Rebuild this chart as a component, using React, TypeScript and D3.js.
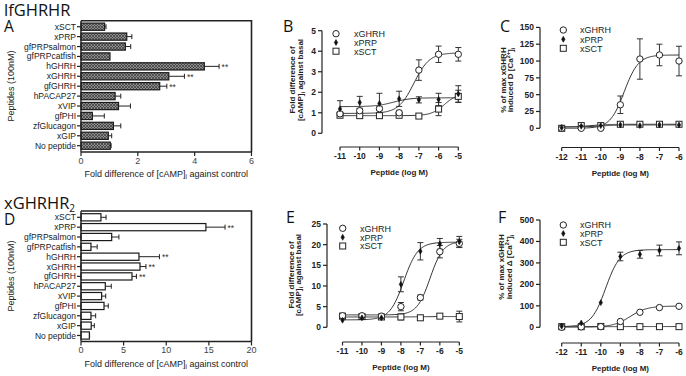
import React from "react";
import * as d3 from "d3";

const FONT = "'Liberation Sans', Arial, sans-serif";
const TITLE_FONT = "'Open Sans', 'DejaVu Sans', sans-serif";
const INK = "#222";

// ---------- Bar panels (A, D) ----------
const peptides = ["xSCT", "xPRP", "gfPRPsalmon", "gfPRPcatfish", "hGHRH", "xGHRH", "gfGHRH", "hPACAP27", "xVIP", "gfPHI", "zfGlucagon", "xGIP", "No peptide"];
const valsA = [0.83, 1.61, 1.56, 1.02, 4.34, 3.09, 2.77, 1.2, 1.32, 0.4, 1.14, 0.96, 1.03];
const errA = [0.05, 0.18, 0.19, 0.0, 0.52, 0.55, 0.25, 0.2, 0.42, 0.42, 0.26, 0.12, 0.03];
const sigA = ["", "", "", "", "**", "**", "**", "", "", "", "", "", ""];
const ticksA = [0, 2, 4, 6];
const valsD = [2.34, 14.65, 3.6, 1.17, 6.8, 6.92, 5.98, 2.85, 2.42, 2.7, 1.17, 1.2, 0.98];
const errD = [0.6, 2.25, 0.85, 0.73, 2.4, 0.7, 0.52, 0.7, 0.48, 0.5, 0.55, 0.36, 0.03];
const sigD = ["", "**", "", "", "**", "**", "**", "", "", "", "", "", ""];
const ticksD = [0, 5, 10, 15, 20];

// ---------- Dose-response panels ----------
const legendNames = ["xGHRH", "xPRP", "xSCT"];
const doseBE = [-11, -10, -9, -8, -7, -6, -5];
const doseCF = [-12, -11, -10, -9, -8, -7, -6];

// B
const bGHRH = [0.95, 1.1, 1.2, 1.0, 3.08, 3.85, 3.85];
const bGHRHerr = [0.1, 0.12, 0.1, 0.12, 0.5, 0.4, 0.33];
const bPRP = [1.19, 1.5, 1.45, 1.68, 1.63, 1.65, 1.92];
const bPRPerr = [0.4, 0.3, 0.5, 0.37, 0.15, 0.3, 0.4];
const bSCT = [0.88, 0.86, 0.86, 0.88, 0.84, 1.18, 1.8];
const bSCTerr = [0.05, 0.05, 0.05, 0.06, 0.03, 0.32, 0.3];
const fitB = [[0.97, 3.92, -7.25, 1.1], [1.3, 1.73, -8.3, 1.0], [0.86, 1.95, -5.7, 1.3]];
const ticksBy = [0, 1, 2, 3, 4, 5];

// C
const cGHRH = [0, 0, 0, 35, 103, 109, 100];
const cGHRHerr = [1, 1, 1, 13, 30, 16, 22];
const cPRP = [1, 3, 4, 5, 4, 5, 5];
const cPRPerr = [1, 1, 1, 1, 1, 1, 1];
const cSCT = [0, 4, 4, 6, 6, 6, 6];
const cSCTerr = [1, 1, 1, 1, 1, 1, 1];
const fitC = [[0, 109, -8.8, 1.2], [2, 5, -10, 1.0], [2, 6, -10.5, 1.0]];
const ticksCy = [0, 25, 50, 75, 100, 125, 150];

// E
const eGHRH = [2.8, 2.8, 2.7, 5.0, 7.2, 18.3, 20.3];
const eGHRHerr = [0.3, 0.3, 0.3, 1.0, 0.6, 1.5, 1.0];
const ePRP = [1.7, 2.3, 2.3, 10.4, 18.4, 20.2, 20.7];
const ePRPerr = [0.3, 0.3, 0.3, 1.8, 2.1, 1.3, 1.3];
const eSCT = [2.7, 2.6, 2.5, 2.5, 2.3, 2.7, 2.6];
const eSCTerr = [0.6, 0.4, 0.4, 0.7, 0.3, 0.4, 1.3];
const fitE = [[3.0, 20.8, -6.5, 1.3], [1.8, 20.6, -7.85, 1.2], [2.5, 2.6, -7, 1.0]];
const ticksEy = [0, 5, 10, 15, 20, 25];

// F
const fGHRH = [0, 2, 3, 27, 70, 92, 98];
const fGHRHerr = [2, 2, 2, 4, 4, 4, 4];
const fPRP = [5, 20, 115, 330, 340, 358, 368];
const fPRPerr = [3, 3, 5, 20, 18, 25, 30];
const fSCT = [3, 3, 4, 3, 3, 3, 3];
const fSCTerr = [1, 1, 1, 1, 1, 1, 1];
const fitF = [[1, 99, -8.5, 1.0], [3, 362, -9.75, 1.2], [3, 3.5, -9, 1.0]];
const ticksFy = [0, 100, 200, 300, 400, 500];

const kinds = ["circle", "dot", "square"];

function Marker({ kind, x, y }: { kind: string; x: number; y: number }) {
  if (kind === "circle") return <circle cx={x} cy={y} r={3.2} fill="#fff" stroke={INK} strokeWidth={1} />;
  if (kind === "dot") {
    const p = d3.symbol(d3.symbolDiamond, 10)();
    return <path d={p || ""} transform={`translate(${x},${y})`} fill="#111" stroke="#111" strokeWidth={0.6} />;
  }
  return <rect x={x - 3} y={y - 3} width={6} height={6} fill="#fff" stroke={INK} strokeWidth={1} />;
}

function sigmoid(p: number[], x: number) {
  const [b, t, ec, h] = p;
  return b + (t - b) / (1 + Math.pow(10, (ec - x) * h));
}

type CurveProps = {
  letter: string; letterX: number; letterY: number;
  dose: number[]; xRange: [number, number]; yMax: number; yRange: [number, number];
  yTicks: number[]; yAxisX: number; xAxisY: number;
  means: number[][]; errs: number[][]; fits: number[][];
  legX: number; legY: number[]; legTextX: number;
  ylab: React.ReactNode[]; ylabX: number[]; ylabCY: number;
};

function CurvePanel(p: CurveProps) {
  const x = d3.scaleLinear().domain([p.dose[0], p.dose[p.dose.length - 1]]).range(p.xRange);
  const y = d3.scaleLinear().domain([0, p.yMax]).range(p.yRange);
  const xs = d3.range(p.dose[0], p.dose[p.dose.length - 1] + 0.001, 0.05);
  return (
    <g>
      <text x={p.letterX} y={p.letterY} fontFamily={TITLE_FONT} fontSize={16} fill="#111">{p.letter}</text>
      <line x1={p.yAxisX} x2={p.yAxisX} y1={y(0)} y2={y(p.yMax)} stroke={INK} strokeWidth={1.2} />
      {p.yTicks.map((t) => (
        <g key={t}>
          <line x1={p.yAxisX - 4} x2={p.yAxisX} y1={y(t)} y2={y(t)} stroke={INK} strokeWidth={1.2} />
          <text x={p.yAxisX - 6} y={y(t) + 3} textAnchor="end" fontFamily={FONT} fontWeight="bold" fontSize={8.5} fill={INK}>{t}</text>
        </g>
      ))}
      <line x1={x(p.dose[0])} x2={x(p.dose[p.dose.length - 1])} y1={p.xAxisY} y2={p.xAxisY} stroke={INK} strokeWidth={1.2} />
      {p.dose.map((d) => (
        <g key={d}>
          <line x1={x(d)} x2={x(d)} y1={p.xAxisY} y2={p.xAxisY + 3.5} stroke={INK} strokeWidth={1.2} />
          <text x={x(d)} y={p.xAxisY + 12} textAnchor="middle" fontFamily={FONT} fontWeight="bold" fontSize={8.5} fill={INK}>{String(d)}</text>
        </g>
      ))}
      <text x={(x(p.dose[0]) + x(p.dose[p.dose.length - 1])) / 2} y={p.xAxisY + 28} textAnchor="middle" fontFamily={FONT} fontWeight="bold" fontSize={8} fill={INK}>Peptide (log M)</text>
      {p.ylab.map((l, i) => (
        <text key={i} transform={`translate(${p.ylabX[i]},${p.ylabCY}) rotate(-90)`} textAnchor="middle" fontFamily={FONT} fontWeight="bold" fontSize={8} fill={INK}>{l}</text>
      ))}
      {p.fits.map((f, i) => (
        <path key={i} d={d3.line<number>().x((d) => x(d)).y((d) => y(sigmoid(f, d)))(xs) || ""} fill="none" stroke="#333" strokeWidth={1} />
      ))}
      {p.means.map((m, si) => m.map((v, j) => {
        const e = p.errs[si][j];
        if (e < 0.02 * p.yMax) return null;
        const cx = x(p.dose[j]);
        return (
          <g key={`${si}-${j}`} stroke="#333" strokeWidth={1}>
            <line x1={cx} x2={cx} y1={y(v - e)} y2={y(v + e)} />
            <line x1={cx - 3} x2={cx + 3} y1={y(v + e)} y2={y(v + e)} />
            <line x1={cx - 3} x2={cx + 3} y1={y(v - e)} y2={y(v - e)} />
          </g>
        );
      }))}
      {[2, 0, 1].map((si) => p.means[si].map((v, j) => (
        <Marker key={`${si}-${j}`} kind={kinds[si]} x={x(p.dose[j])} y={y(v)} />
      )))}
      {legendNames.map((n, i) => (
        <g key={n}>
          <Marker kind={kinds[i]} x={p.legX} y={p.legY[i]} />
          <text x={p.legTextX} y={p.legY[i] + 3.3} fontFamily={FONT} fontSize={9} fill={INK}>{n}</text>
        </g>
      ))}
    </g>
  );
}

type BarProps = {
  vals: number[]; errs: number[]; sig: string[]; xMax: number; ticks: number[];
  xRange: [number, number]; top: number; bottom: number; firstC: number; lastC: number;
  fill: string; ylabCY: number;
};

function BarPanel(p: BarProps) {
  const x = d3.scaleLinear().domain([0, p.xMax]).range(p.xRange);
  const y = d3.scalePoint<string>().domain(peptides).range([p.firstC, p.lastC]);
  const x0 = x(0);
  return (
    <g>
      {peptides.map((c, i) => {
        const cy = y(c) as number;
        const v = p.vals[i];
        const e = p.errs[i];
        return (
          <g key={c}>
            <rect x={x0} y={cy - 3.6} width={x(v) - x0} height={7.2} fill={p.fill} stroke="#1a1a1a" strokeWidth={1.2} />
            {e > 0.01 && (
              <g stroke="#222" strokeWidth={1}>
                <line x1={x(v)} x2={x(v + e)} y1={cy} y2={cy} />
                <line x1={x(v + e)} x2={x(v + e)} y1={cy - 2.5} y2={cy + 2.5} />
              </g>
            )}
            {p.sig[i] && (
              <text x={x(v + e) + 2.5} y={cy + 3.5} fontFamily={FONT} fontSize={8.5} fill="#333">{p.sig[i]}</text>
            )}
            <line x1={x0 - 4} x2={x0} y1={cy} y2={cy} stroke={INK} strokeWidth={1.2} />
            <text x={x0 - 5} y={cy + 3} textAnchor="end" fontFamily={FONT} fontSize={8.5} fill={INK}>{c}</text>
          </g>
        );
      })}
      <path d={`M${x0},${p.top}H${p.xRange[1]}V${p.bottom}`} fill="none" stroke={INK} strokeWidth={1.6} />
      <line x1={x0} x2={x0} y1={p.top} y2={p.bottom} stroke={INK} strokeWidth={1.4} />
      <line x1={x0} x2={p.xRange[1]} y1={p.bottom} y2={p.bottom} stroke={INK} strokeWidth={1.4} />
      {p.ticks.map((t) => (
        <g key={t}>
          <line x1={x(t)} x2={x(t)} y1={p.bottom} y2={p.bottom + 4} stroke={INK} strokeWidth={1.2} />
          <text x={x(t)} y={p.bottom + 11.5} textAnchor="middle" fontFamily={FONT} fontSize={9} fill="#444">{t}</text>
        </g>
      ))}
      <text x={(x0 + p.xRange[1]) / 2} y={p.bottom + 25} textAnchor="middle" fontFamily={FONT} fontSize={9} fill={INK}>
        Fold difference of [cAMP]<tspan fontSize={6.5} dy={2}>i</tspan><tspan dy={-2}> against control</tspan>
      </text>
      <text transform={`translate(14,${p.ylabCY}) rotate(-90)`} textAnchor="middle" fontFamily={FONT} fontSize={9} fill={INK}>Peptides (100nM)</text>
    </g>
  );
}

const cAMPlab = [
  "Fold difference of",
  <>[cAMP]<tspan fontSize={6} dy={2}>i</tspan><tspan dy={-2}> against basal</tspan></>,
];
const caLabC = [
  "% of max xGHRH",
  <>induced D [Ca<tspan fontSize={5.5} dy={-3}>2+</tspan><tspan dy={3}>]</tspan><tspan dy={2} fontSize={5.5}>i</tspan></>,
];
const caLabF = [
  "% of max xGHRH",
  <>induced Δ [Ca<tspan fontSize={5.5} dy={-3}>2+</tspan><tspan dy={3}>]</tspan><tspan dy={2} fontSize={5.5}>i</tspan></>,
];

export default function App() {
  return (
    <svg width={686} height={376} style={{ position: "absolute", left: 0, top: 0, background: "#fff" }}>
      <defs>
        <pattern id="hatch" width={3} height={3} patternUnits="userSpaceOnUse">
          <rect width={3} height={3} fill="#8c8c8c" />
          <path d="M0,0L3,3M3,0L0,3" stroke="#3a3a3a" strokeWidth={0.7} />
        </pattern>
      </defs>
      <rect width={686} height={376} fill="#fff" />
      <text x={4} y={16} fontFamily={TITLE_FONT} fontSize={16.5} fill="#111">lfGHRHR</text>
      <text x={4} y={32} fontFamily={TITLE_FONT} fontSize={15.5} fill="#111">A</text>
      <text x={4} y={209} fontFamily={TITLE_FONT} fontSize={16.5} fill="#111">xGHRHR<tspan fontSize={10} dy={3}>2</tspan></text>
      <text x={4} y={225} fontFamily={TITLE_FONT} fontSize={15.5} fill="#111">D</text>

      <BarPanel vals={valsA} errs={errA} sig={sigA} xMax={6} ticks={ticksA} xRange={[81, 251.5]} top={20.7} bottom={152}
        firstC={26.7} lastC={145.7} fill="url(#hatch)" ylabCY={86} />
      <BarPanel vals={valsD} errs={errD} sig={sigD} xMax={20} ticks={ticksD} xRange={[81, 251.5]} top={211} bottom={341.5}
        firstC={217.3} lastC={335.5} fill="#fff" ylabCY={276} />

      <CurvePanel letter="B" letterX={283} letterY={32} dose={doseBE} xRange={[340, 458.3]} yMax={5} yRange={[133.3, 30.7]}
        yTicks={ticksBy} yAxisX={322} xAxisY={147} means={[bGHRH, bPRP, bSCT]} errs={[bGHRHerr, bPRPerr, bSCTerr]} fits={fitB}
        legX={336} legY={[33.7, 42.5, 51.2]} legTextX={354} ylab={cAMPlab} ylabX={[295, 302.5]} ylabCY={80} />
      <CurvePanel letter="C" letterX={500} letterY={32} dose={doseCF} xRange={[561.7, 679]} yMax={150} yRange={[128.3, 27.4]}
        yTicks={ticksCy} yAxisX={540} xAxisY={147.5} means={[cGHRH, cPRP, cSCT]} errs={[cGHRHerr, cPRPerr, cSCTerr]} fits={fitC}
        legX={563.3} legY={[30, 39.3, 48.3]} legTextX={580} ylab={caLabC} ylabX={[505.5, 513]} ylabCY={80} />
      <CurvePanel letter="E" letterX={286} letterY={223} dose={doseBE} xRange={[342.5, 459.3]} yMax={25} yRange={[327.3, 224]}
        yTicks={ticksEy} yAxisX={327} xAxisY={342} means={[eGHRH, ePRP, eSCT]} errs={[eGHRHerr, ePRPerr, eSCTerr]} fits={fitE}
        legX={342.7} legY={[228.3, 237.3, 246]} legTextX={360} ylab={cAMPlab} ylabX={[293.5, 301]} ylabCY={275} />
      <CurvePanel letter="F" letterX={498} letterY={223} dose={doseCF} xRange={[561.7, 679]} yMax={500} yRange={[327.3, 220]}
        yTicks={ticksFy} yAxisX={540} xAxisY={343} means={[fGHRH, fPRP, fSCT]} errs={[fGHRHerr, fPRPerr, fSCTerr]} fits={fitF}
        legX={563.3} legY={[225, 233.5, 242.3]} legTextX={580} ylab={caLabF} ylabX={[503.5, 511.5]} ylabCY={267} />
    </svg>
  );
}
